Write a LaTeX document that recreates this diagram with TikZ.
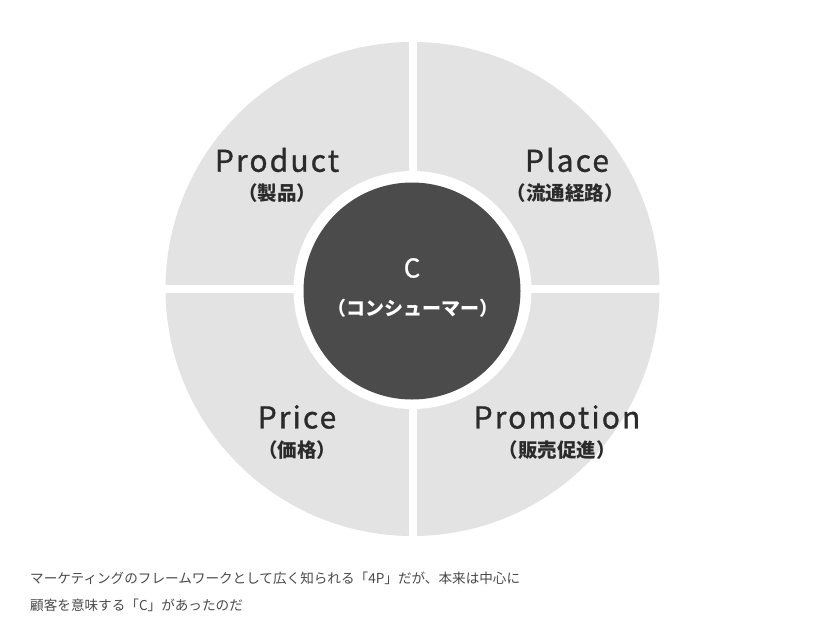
\documentclass[tikz,border=0pt]{standalone}
\usepackage{fontspec}
\setmainfont{Noto Sans CJK JP}
\newfontfamily\latinfont[LetterSpace=7,FakeBold=1]{Noto Sans CJK JP}
\usetikzlibrary{positioning}

\definecolor{quadgray}{HTML}{E3E3E3}
\definecolor{coregray}{HTML}{4B4B4B}
\definecolor{inkgray}{HTML}{2B2B2B}
\definecolor{notegray}{HTML}{4A4A4A}

\tikzset{
  pname/.style={text=inkgray,font=\latinfont\fontsize{30}{32}\selectfont},
  pjname/.style={text=inkgray,font=\bfseries\fontsize{19.5}{22}\selectfont},
  note/.style={text=notegray,anchor=west,inner sep=0pt,font=\fontsize{13.6}{16}\selectfont}
}

\begin{document}
\begin{tikzpicture}[x=1pt,y=-1pt]
        \useasboundingbox [fill=white] (0,0) rectangle (824,640);
        \fill [quadgray] (412.5,289) circle [radius=247];
        \fill [white] (408.5,38) rectangle (416.5,540);
        \fill [white] (162,285) rectangle (663,293);
        \fill [white] (412.5,290) circle [radius=119];
        \node [circle,fill=coregray,minimum size=217pt,inner sep=0pt] (core) at (412,291) {};
        \node [text=white,font=\latinfont\fontsize{26}{28}\selectfont] (c) at (412,268) {C};
        \node [text=white,font=\bfseries\fontsize{19}{21}\selectfont] (cj) at (413,308) {（コンシューマー）};
        \node [pname] (product) at (277,160) {Product};
        \node [pjname] (productj) at (277,193) {（製品）};
        \node [pname] (place) at (567,160) {Place};
        \node [pjname] (placej) at (565,193) {（流通経路）};
        \node [pname] (price) at (297,417) {Price};
        \node [pjname] (pricej) at (297,450) {（価格）};
        \node [pname] (promotion) at (557,417) {Promotion};
        \node [pjname] (promotionj) at (557,450) {（販売促進）};
        \node [note] (line1) at (30,578) {マーケティングのフレームワークとして広く知られる「4P」だが、本来は中心に};
        \node [note] (line2) at (30,605) {顧客を意味する「C」があったのだ};
    \end{tikzpicture}
\end{document}
